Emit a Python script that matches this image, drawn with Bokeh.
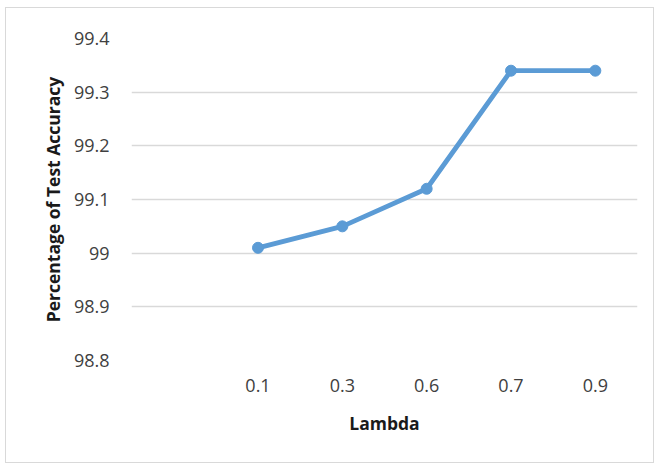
from bokeh.plotting import figure
from bokeh.models import FactorRange, Range1d, FixedTicker, ColumnDataSource
from bokeh.embed import file_html
from bokeh.resources import INLINE

# Test accuracy for each lambda value
lambdas = ["0.1", "0.3", "0.6", "0.7", "0.9"]
accuracy = [99.01, 99.05, 99.12, 99.34, 99.34]

# Value axis ticks and their labels
y_ticks = [98.8, 98.9, 99.0, 99.1, 99.2, 99.3, 99.4]
y_tick_labels = ["98.8", "98.9", "99", "99.1", "99.2", "99.3", "99.4"]

# a leading blank category slot precedes the lambda values
x_factors = [" "] + lambdas

FONT = "Open Sans"
TEXT = "#404040"
TITLE = "#1a1a1a"
LINE = "#5b9bd5"
GRID = "#d9d9d9"

p = figure(
    width=649, height=456,
    x_range=FactorRange(factors=x_factors),
    y_range=Range1d(y_ticks[0], y_ticks[-1]),
    output_backend="svg", toolbar_location=None,
    min_border_left=125, min_border_right=18,
    min_border_top=30, min_border_bottom=104,
)
# thin light frame around the whole chart area
p.styles = {"margin-left": "5px", "margin-top": "7px", "border": "1px solid #d9d9d9"}
p.outline_line_color = None
p.background_fill_color = "white"
p.border_fill_color = "white"

p.xgrid.grid_line_color = None
p.ygrid.grid_line_color = GRID
p.ygrid.grid_line_width = 1.3

p.yaxis.ticker = FixedTicker(ticks=y_ticks)
p.yaxis.major_label_overrides = dict(zip(y_ticks, y_tick_labels))

for ax in (p.xaxis[0], p.yaxis[0]):
    ax.axis_line_color = None
    ax.major_tick_line_color = None
    ax.minor_tick_line_color = None
    ax.major_tick_in = 0
    ax.major_tick_out = 0
    ax.major_label_text_font = FONT
    ax.major_label_text_font_size = "18px"
    ax.major_label_text_color = TEXT
    ax.axis_label_text_font = FONT
    ax.axis_label_text_font_style = "bold"
    ax.axis_label_text_font_size = "17.5px"
    ax.axis_label_text_color = TITLE

p.xaxis.axis_label = "Lambda"
p.yaxis.axis_label = "Percentage of Test Accuracy"
p.xaxis.major_label_standoff = 12
p.xaxis.axis_label_standoff = 11
p.yaxis.major_label_standoff = 22
p.yaxis.axis_label_standoff = 6

src = ColumnDataSource(data=dict(lam=lambdas, acc=accuracy))
p.line(x="lam", y="acc", source=src, line_color=LINE, line_width=4.8, line_join="round")
p.scatter(x="lam", y="acc", source=src, size=11, fill_color=LINE, line_color=LINE)

open("out.html", "w").write(file_html(p, INLINE))
